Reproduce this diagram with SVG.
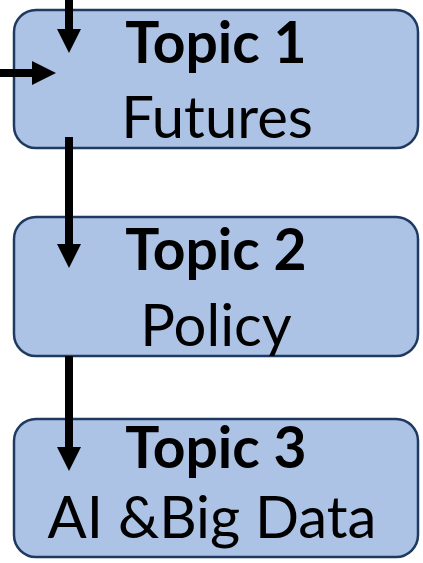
<svg xmlns="http://www.w3.org/2000/svg" width="423" height="563" viewBox="0 0 423 563">
<defs>
<style>
.box{fill:#adc3e6;stroke:#1f3a60;stroke-width:2.5}
.t{font-family:Lato,"Liberation Sans",sans-serif;font-weight:bold;font-size:57px;fill:#000;text-anchor:middle}
.s{font-family:Lato,"Liberation Sans",sans-serif;font-size:58px;fill:#000;text-anchor:middle}
.c{stroke:#000;stroke-width:8;fill:none;marker-end:url(#ah)}
</style>
<marker id="ah" markerUnits="userSpaceOnUse" markerWidth="24" markerHeight="24" refX="0" refY="12" orient="auto">
<path d="M0,0 L24,12 L0,24 z" fill="#000"/>
</marker>
</defs>
<g id="topic1">
<rect class="box" x="14" y="10" width="404" height="138" rx="22"/>
<text class="t" x="216" y="63">Topic 1</text>
<text class="s" x="217" y="138">Futures</text>
</g>
<g id="topic2">
<rect class="box" x="14" y="217" width="404" height="139" rx="22"/>
<text class="t" x="216" y="270">Topic 2</text>
<text class="s" x="216" y="346">Policy</text>
</g>
<g id="topic3">
<rect class="box" x="14" y="419" width="404" height="138" rx="22"/>
<text class="t" x="216" y="468">Topic 3</text>
<text class="s" x="212" y="538">AI &amp;Big Data</text>
</g>
<g id="connectors">
<path class="c" d="M69,0 V29"/>
<path class="c" d="M0,73 H32"/>
<path class="c" d="M69,137 V244"/>
<path class="c" d="M69,356 V447"/>
</g>
</svg>
